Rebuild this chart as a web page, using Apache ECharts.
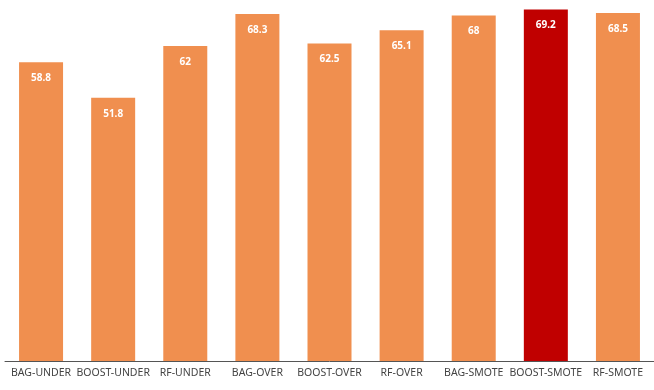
<!DOCTYPE html>
<html>
<head>
<meta charset="utf-8">
<script src="https://cdn.jsdelivr.net/npm/echarts@6/dist/echarts.min.js"></script>
<style>
  html, body { margin: 0; padding: 0; background: #ffffff; }
  #chart { width: 654px; height: 390px; }
</style>
</head>
<body>
<div id="chart"></div>
<script>
// Sampling methods compared by score
const categories = ['BAG-UNDER', 'BOOST-UNDER', 'RF-UNDER', 'BAG-OVER', 'BOOST-OVER', 'RF-OVER', 'BAG-SMOTE', 'BOOST-SMOTE', 'RF-SMOTE'];
const values = [58.8, 51.8, 62, 68.3, 62.5, 65.1, 68, 69.2, 68.5];
const highlighted = 'BOOST-SMOTE';

const baseColor = '#F08F4F';
const highlightColor = '#C00000';

const chart = echarts.init(document.getElementById('chart'), null, { renderer: 'canvas' });

chart.setOption({
  animation: false,
  backgroundColor: '#ffffff',
  grid: { left: 5, top: 5.4, width: 655, height: 355.6, containLabel: false },
  xAxis: {
    type: 'category',
    data: categories,
    axisLine: { show: true, lineStyle: { color: '#555555', width: 1 } },
    axisTick: { show: false },
    axisLabel: {
      color: '#444444',
      fontFamily: 'Noto Sans',
      fontSize: 10.5,
      margin: 7,
      interval: 0
    }
  },
  yAxis: {
    type: 'value',
    min: 0,
    max: 70,
    show: false,
    splitLine: { show: false }
  },
  series: [{
    type: 'bar',
    barWidth: 44,
    data: values.map((v, i) => ({
      value: v,
      itemStyle: { color: categories[i] === highlighted ? highlightColor : baseColor }
    })),
    label: {
      show: true,
      position: 'insideTop',
      distance: 11,
      color: '#ffffff',
      fontFamily: 'Noto Sans',
      fontWeight: 'bold',
      fontSize: 10
    }
  }]
});
</script>
</body>
</html>
